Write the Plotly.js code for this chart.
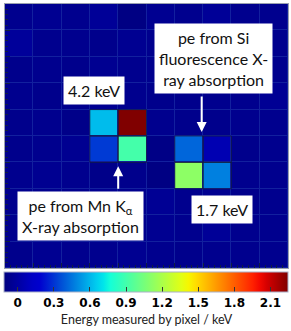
<!DOCTYPE html>
<html>
<head>
<meta charset="utf-8">
<script src="https://cdn.plot.ly/plotly-3.0.1.min.js"></script>
<style>html,body{margin:0;padding:0;background:#fff;}#plot{width:291px;height:331px;}</style>
</head>
<body>
<div id="plot"></div>
<script>
// Pixel columns / rows
const cols = [0,1,2,3,4,5,6,7,8,9];
const rows = [0,1,2,3,4,5,6,7,8,9];
// Energy measured by each pixel (keV), row 0 at top
const row0 = [-0.06,-0.05,-0.06,-0.03,-0.10,-0.05,-0.06,-0.03,-0.06,-0.06];
const row1 = [-0.02,-0.06,-0.06,-0.07,-0.05,-0.06,-0.05,-0.06,-0.07,-0.06];
const row2 = [-0.07,-0.06,-0.07,-0.05,-0.06,-0.06,-0.06,-0.05,-0.07,-0.06];
const row3 = [-0.06,-0.07,-0.06,-0.05,-0.06,-0.07,-0.07,-0.06,-0.06,-0.04];
const row4 = [-0.07,-0.06,-0.08, 0.62, 2.25,-0.06,-0.07,-0.07,-0.06,-0.06];
const row5 = [-0.07,-0.06,-0.05, 0.32, 0.91,-0.09, 0.42, 0.06,-0.07,-0.06];
const row6 = [-0.06,-0.05,-0.06,-0.08,-0.07,-0.10, 1.12, 0.48,-0.06,-0.06];
const row7 = [-0.06,-0.06,-0.06,-0.05,-0.06,-0.04,-0.06,-0.05,-0.07,-0.06];
const row8 = [-0.06,-0.05,-0.06,-0.06,-0.06,-0.05,-0.06,-0.03,-0.06,-0.06];
const row9 = [-0.07,-0.05,-0.06,-0.06,-0.05,-0.06,-0.07,-0.06,-0.06,-0.06];
const zData = [row0,row1,row2,row3,row4,row5,row6,row7,row8,row9];
const tickVals = [0,0.3,0.6,0.9,1.2,1.5,1.8,2.1];
const tickText = ['0','0.3','0.6','0.9','1.2','1.5','1.8','2.1'];
const zMin = -0.11, zMax = 2.25;

// jet-like colorscale
function seg(pts, t){
  for(let i=0;i<pts.length-1;i++){
    const a=pts[i], b=pts[i+1];
    if(t>=a[0] && t<=b[0]){ return a[1]+(b[1]-a[1])*(t-a[0])/(b[0]-a[0]); }
  }
  return pts[pts.length-1][1];
}
const R=[[0,0],[0.35,0],[0.66,1],[0.89,1],[1,0.5]];
const G=[[0,0],[0.125,0],[0.375,1],[0.64,1],[0.91,0],[1,0]];
const B=[[0,0.5],[0.11,0.8],[0.2,0.84],[0.34,0.95],[0.65,0],[1,0]];
const jet=[];
for(let i=0;i<=40;i++){
  const t=i/40;
  jet.push([t,'rgb('+Math.round(255*seg(R,t))+','+Math.round(255*seg(G,t))+','+Math.round(255*seg(B,t))+')']);
}

// outlines for lit pixels
const shapes=[];
zData.forEach((r,yi)=>r.forEach((v,xi)=>{
  if(v>0.01){
    shapes.push({type:'rect',xref:'x',yref:'y',x0:cols[xi]-0.5,x1:cols[xi]+0.5,y0:rows[yi]-0.5,y1:rows[yi]+0.5,
      line:{color:'rgba(20,30,60,0.7)',width:1},layer:'above'});
  }
}));

const ann = (x,y,text)=>({x:x,y:y,xref:'x',yref:'y',text:text,showarrow:false,bgcolor:'#ffffff',
  borderpad:4,font:{family:'Lato, sans-serif',size:16,color:'#111'},align:'center'});
const annotations=[
  ann(2.64,2.76,'4.2 keV'),
  ann(6.88,1.58,'pe from Si<br>fluorescence X-<br>ray absorption'),
  ann(2.15,7.53,'pe from Mn K<sub>α</sub><br>X-ray absorption'),
  ann(7.17,7.3,'1.7 keV'),
  {x:6.45,y:4.35,xref:'x',yref:'y',text:'',showarrow:true,arrowhead:2,arrowsize:1,arrowwidth:2,arrowcolor:'#fff',ax:0,ay:-37},
  {x:3.5,y:5.65,xref:'x',yref:'y',text:'',showarrow:true,arrowhead:2,arrowsize:1,arrowwidth:2,arrowcolor:'#fff',ax:0,ay:24}
];

const trace={type:'heatmap',x:cols,y:rows,z:zData,zmin:zMin,zmax:zMax,colorscale:jet,xgap:1,ygap:1,
  hoverinfo:'skip',
  colorbar:{orientation:'h',x:0.5,xanchor:'center',y:-0.015,yanchor:'top',lenmode:'pixels',len:284,
    thickness:20,thicknessmode:'pixels',xpad:0,ypad:0,outlinecolor:'#a9b0c8',outlinewidth:1,
    tickmode:'array',tickvals:tickVals,ticktext:tickText.map(s=>'<b>'+s+'</b>'),ticks:'inside',ticklen:5,tickcolor:'#333',tickwidth:1,
    tickfont:{family:'DejaVu Sans, sans-serif',size:12,color:'#000'},
    title:{text:'Energy measured by pixel / keV',side:'bottom',font:{family:'Lato, sans-serif',size:12.5,color:'#222'}}}
};

const layout={width:291,height:331,margin:{l:5,r:3,t:4,b:63},paper_bgcolor:'#fff',plot_bgcolor:'rgb(18,32,158)',
  xaxis:{range:[-0.5,9.5],showgrid:false,zeroline:false,showticklabels:false,ticks:'inside',tick0:-0.5,dtick:1,ticklen:5,
    tickcolor:'#102040',minor:{ticks:'inside',dtick:0.2,tick0:-0.5,ticklen:3,tickcolor:'#102040'},
    showline:true,mirror:true,linecolor:'#9aa0b0',linewidth:1,fixedrange:true},
  yaxis:{range:[9.5,-0.5],showgrid:false,zeroline:false,showticklabels:false,ticks:'inside',tick0:-0.5,dtick:1,ticklen:5,
    tickcolor:'#102040',minor:{ticks:'inside',dtick:0.2,tick0:-0.5,ticklen:3,tickcolor:'#102040'},
    showline:true,mirror:true,linecolor:'#9aa0b0',linewidth:1,fixedrange:true},
  shapes:shapes,annotations:annotations,showlegend:false};

Plotly.newPlot('plot',[trace],layout,{staticPlot:true,displayModeBar:false});
</script>
</body>
</html>
